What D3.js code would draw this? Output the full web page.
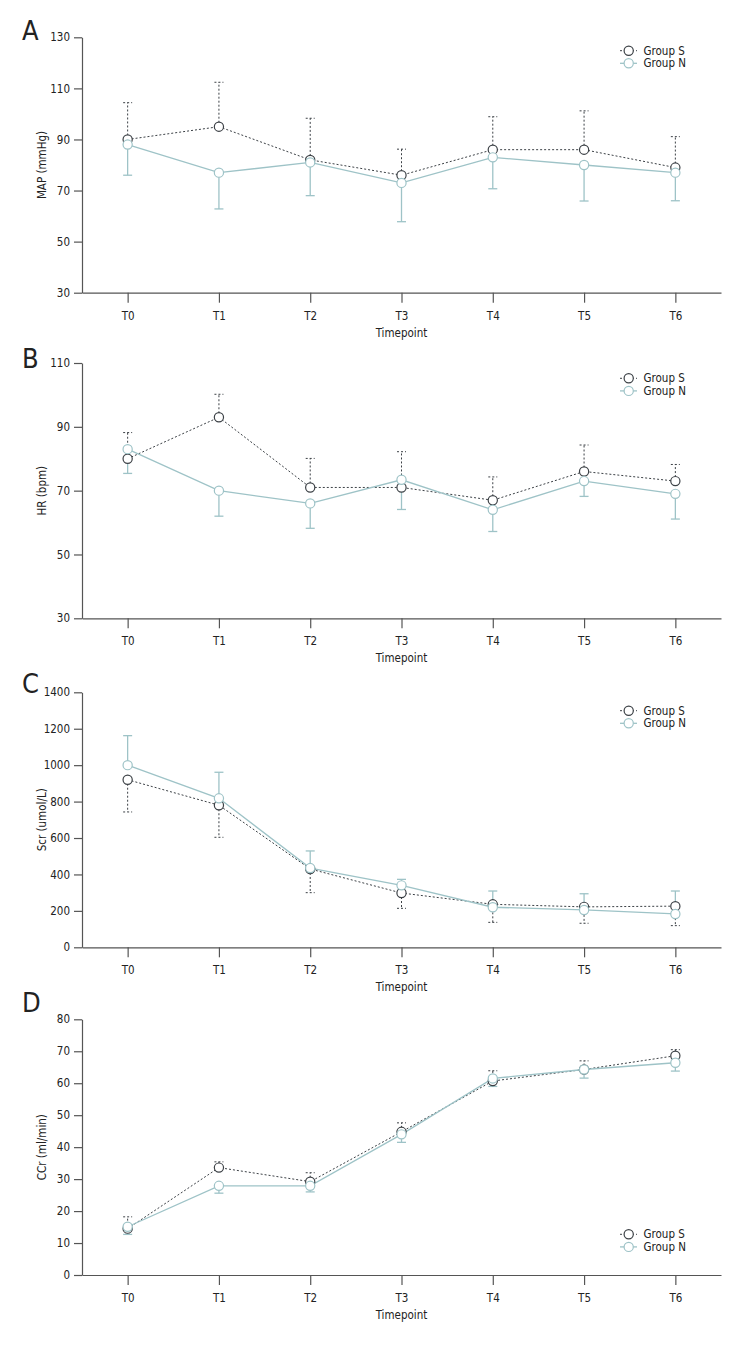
<!DOCTYPE html>
<html>
<head>
<meta charset="utf-8">
<script src="https://cdn.jsdelivr.net/npm/d3@7/dist/d3.min.js"></script>
<style>
  html, body { margin: 0; padding: 0; background: #fff; }
  svg { display: block; }
  text { font-family: "Liberation Sans Narrow", "DejaVu Sans Condensed", "Roboto", sans-serif; fill: #222; }
</style>
</head>
<body>
<script>
// ---------- DATA ----------
const timepoints = ["T0", "T1", "T2", "T3", "T4", "T5", "T6"];
const groups = ["Group S", "Group N"];

// Panel A: MAP (mmHg)
const mapTicks = [30, 50, 70, 90, 110, 130];
const mapS   = [90, 95, 82, 76, 86, 86, 79];
const mapSsd = [14.4, 17.4, 16.3, 10.2, 12.9, 15.2, 12.1];
const mapN   = [88, 77, 81, 73, 83, 80, 77];
const mapNsd = [12, 14.2, 13, 15.2, 12.3, 14.1, 11];

// Panel B: HR (bpm)
const hrTicks = [30, 50, 70, 90, 110];
const hrS   = [80, 93, 71, 71, 67, 76, 73];
const hrSsd = [8.2, 7.2, 9.1, 11.2, 7.3, 8.3, 5.2];
const hrN   = [83, 70, 66, 73.4, 64, 73, 69];
const hrNsd = [7.6, 8, 7.8, 9.3, 6.8, 4.8, 7.9];

// Panel C: Scr (umol/L)
const scrTicks = [0, 200, 400, 600, 800, 1000, 1200, 1400];
const scrS   = [920, 780, 430, 298, 236, 222, 226];
const scrSsd = [177, 176, 130, 84, 99, 90, 107];
const scrN   = [1000, 818, 435, 340, 220, 205, 183];
const scrNsd = [162, 143, 94, 33, 89, 89, 126];

// Panel D: CCr (ml/min)
const ccrTicks = [0, 10, 20, 30, 40, 50, 60, 70, 80];
const ccrS   = [14.5, 33.6, 29.2, 44.8, 60.7, 64.3, 68.6];
const ccrSsd = [3.7, 1.8, 2.8, 2.8, 3.2, 2.7, 1.9];
const ccrN   = [15.1, 27.9, 27.9, 44, 61.5, 64.3, 66.4];
const ccrNsd = [2.4, 2.3, 1.9, 2.5, 2.5, 2.7, 2.6];

// ---------- PANELS (data references + error direction) ----------
const panels = [
  { letter: "A", label: "MAP (mmHg)",   ticks: mapTicks, S: mapS, Ssd: mapSsd, N: mapN, Nsd: mapNsd, dirS: 1,  dirN: -1 },
  { letter: "B", label: "HR (bpm)",     ticks: hrTicks,  S: hrS,  Ssd: hrSsd,  N: hrN,  Nsd: hrNsd,  dirS: 1,  dirN: -1 },
  { letter: "C", label: "Scr (umol/L)", ticks: scrTicks, S: scrS, Ssd: scrSsd, N: scrN, Nsd: scrNsd, dirS: -1, dirN: 1 },
  { letter: "D", label: "CCr (ml/min)", ticks: ccrTicks, S: ccrS, Ssd: ccrSsd, N: ccrN, Nsd: ccrNsd, dirS: 1,  dirN: -1 }
];

// ---------- LAYOUT ----------
const W = 756, H = 1356;
const xLeft = 82, xRight = 721;
const layout = [
  { top: 37.3,   bottom: 292.7,  letterY: 40,   legendY: 50.7 },
  { top: 363,    bottom: 618.3,  letterY: 368,  legendY: 378.3 },
  { top: 692.3,  bottom: 947.3,  letterY: 693,  legendY: 710.7 },
  { top: 1019.3, bottom: 1275,   letterY: 1012, legendY: 1234.3 }
];
const colS = "#3c4146", colN = "#9ec3c7", axisCol = "#555";
const R = 4.6, capW = 9;
const fontStack = "'Liberation Sans Narrow','DejaVu Sans Condensed',sans-serif";

const svg = d3.select("body").append("svg").attr("width", W).attr("height", H);

const x = d3.scalePoint().domain(timepoints).range([xLeft, xRight]).padding(0.5);

panels.forEach((p, i) => {
  const L = layout[i];
  const y = d3.scaleLinear().domain(d3.extent(p.ticks)).range([L.bottom, L.top]);
  const g = svg.append("g");

  // panel letter
  g.append("text").attr("x", 22).attr("y", L.letterY)
    .attr("font-size", 27).attr("fill", "#111").text(p.letter);

  // y axis
  const ya = g.append("g").attr("transform", `translate(${xLeft},0)`)
    .call(d3.axisLeft(y).tickValues(p.ticks).tickFormat(d3.format("d"))
      .tickSize(8).tickSizeOuter(0).tickPadding(4));
  // x axis
  const xa = g.append("g").attr("transform", `translate(0,${L.bottom})`)
    .call(d3.axisBottom(x).tickSize(10).tickSizeOuter(0).tickPadding(9));
  [ya, xa].forEach(a => {
    a.selectAll("path,line").attr("stroke", axisCol).attr("stroke-width", 1.2);
    a.selectAll("text").attr("font-size", 11.5).attr("fill", "#222")
      .style("font-family", fontStack);
  });

  // axis titles
  g.append("text").attr("x", (xLeft + xRight) / 2).attr("y", L.bottom + 44)
    .attr("text-anchor", "middle").attr("font-size", 11.5).text("Timepoint");
  g.append("text")
    .attr("transform", `translate(46,${(L.top + L.bottom) / 2}) rotate(-90)`)
    .attr("text-anchor", "middle").attr("font-size", 11.5).text(p.label);

  const series = [
    { vals: p.S, sd: p.Ssd, dir: p.dirS, col: colS, dash: "2,2", w: 1 },
    { vals: p.N, sd: p.Nsd, dir: p.dirN, col: colN, dash: null,  w: 1.3 }
  ];

  // error bars
  series.forEach(s => {
    const eb = g.append("g");
    timepoints.forEach((t, k) => {
      const cx = x(t), v = s.vals[k], e = v + s.dir * s.sd[k];
      eb.append("line").attr("x1", cx).attr("x2", cx)
        .attr("y1", y(v)).attr("y2", y(e))
        .attr("stroke", s.col).attr("stroke-width", s.w)
        .attr("stroke-dasharray", s.dash);
      eb.append("line").attr("x1", cx - capW / 2).attr("x2", cx + capW / 2)
        .attr("y1", y(e)).attr("y2", y(e))
        .attr("stroke", s.col).attr("stroke-width", s.w)
        .attr("stroke-dasharray", s.dash);
    });
  });

  // lines
  const line = d3.line().x((d, k) => x(timepoints[k])).y(d => y(d));
  series.forEach(s => {
    g.append("path").datum(s.vals).attr("d", line)
      .attr("fill", "none").attr("stroke", s.col).attr("stroke-width", s.w)
      .attr("stroke-dasharray", s.dash);
  });

  // markers
  series.forEach(s => {
    g.append("g").selectAll("circle").data(s.vals).join("circle")
      .attr("cx", (d, k) => x(timepoints[k])).attr("cy", d => y(d)).attr("r", R)
      .attr("fill", "#fff").attr("stroke", s.col).attr("stroke-width", 1.2);
  });

  // legend
  const lg = g.append("g");
  groups.forEach((name, k) => {
    const s = series[k];
    const ly = L.legendY + k * 12.6;
    lg.append("line").attr("x1", 620).attr("x2", 637).attr("y1", ly).attr("y2", ly)
      .attr("stroke", s.col).attr("stroke-width", s.w).attr("stroke-dasharray", s.dash);
    lg.append("circle").attr("cx", 628.7).attr("cy", ly).attr("r", R)
      .attr("fill", "#fff").attr("stroke", s.col).attr("stroke-width", 1.2);
    lg.append("text").attr("x", 643.5).attr("y", ly + 4).attr("font-size", 11.5).text(name);
  });
});
</script>
</body>
</html>
